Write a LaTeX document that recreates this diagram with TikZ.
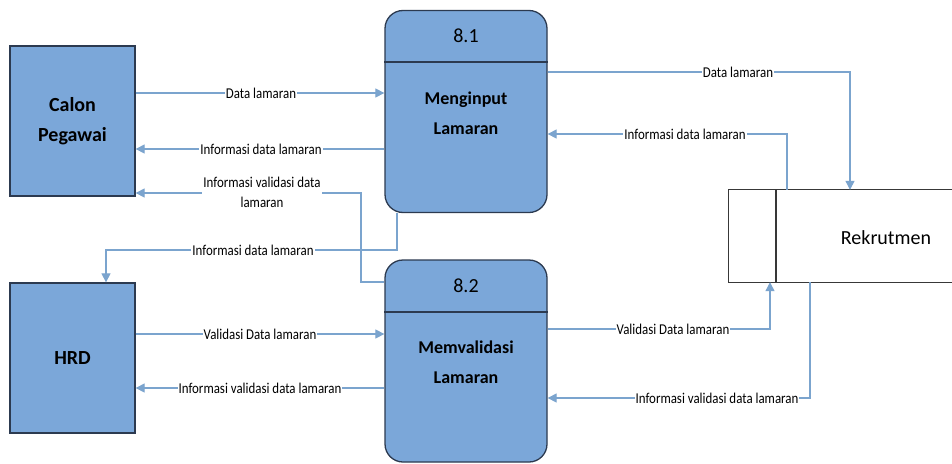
\documentclass[tikz,border=0pt]{standalone}
\usepackage{fontspec}
\setmainfont{Carlito}
\newfontfamily\lblfont[FakeStretch=0.86]{Carlito}
\usetikzlibrary{arrows.meta}
\definecolor{boxblue}{HTML}{7BA7D9}
\definecolor{boxedge}{HTML}{2C3A50}
\definecolor{flowblue}{HTML}{7BA4CE}
\definecolor{storeedge}{HTML}{383838}
\begin{document}
\begin{tikzpicture}[x=1pt,y=-1pt,
  ext/.style={draw=boxedge, line width=1.3pt, fill=boxblue, minimum width=125pt, minimum height=150pt, inner sep=0pt, align=center, font=\fontsize{20}{30}\selectfont\bfseries},
  proc/.style={draw=boxedge, line width=1.3pt, fill=boxblue, rounded corners=18pt, minimum width=162pt, minimum height=202pt, inner sep=0pt},
  ptitle/.style={font=\fontsize{20}{24}\selectfont, inner sep=0pt},
  ptext/.style={font=\fontsize{18}{30}\selectfont\bfseries, align=center, inner sep=0pt},
  divline/.style={draw=boxedge, line width=1.3pt},
  flow/.style={draw=flowblue, line width=1.2pt, -{Triangle[length=9pt,width=9pt]}},
  lbl/.style={fill=white, inner sep=1pt, align=center, font=\lblfont\fontsize{15}{20}\selectfont, text=black},
  store/.style={draw=storeedge, line width=1.3pt}
]
\useasboundingbox (0,0) rectangle (952,463);
\fill[white] (0,0) rectangle (952,463);

% external entities
\node[ext] (cp) at (72.5,121) {Calon\\Pegawai};
\node[ext] (hrd) at (72.5,358) {HRD};

% processes
\node[proc] (p1) at (466,111.5) {};
\node[proc] (p2) at (466,361) {};
\coordinate (d1) at (0,62);
\coordinate (d2) at (0,312);
\draw[divline] (p1.west |- d1) -- (p1.east |- d1);
\draw[divline] (p2.west |- d2) -- (p2.east |- d2);
\node[ptitle] (n1) at (466,36) {8.1};
\node[ptext] (m1) at (466,113) {Menginput\\Lamaran};
\node[ptitle] (n2) at (466,286) {8.2};
\node[ptext] (m2) at (466,362) {Memvalidasi\\Lamaran};

% data store
\node[minimum width=223pt, minimum height=92pt, inner sep=0pt] (rk) at (840.5,236) {};
\coordinate (dv) at (776,0);
\draw[store] (rk.north east) -- (rk.north west) -- (rk.south west) -- (rk.south east);
\draw[store] (rk.north -| dv) -- (rk.south -| dv);
\node[font=\fontsize{20}{24}\selectfont, inner sep=0pt] (rkt) at (886,238) {Rekrutmen};

% level coordinates
\coordinate (ya) at (0,93);
\coordinate (yb) at (0,149);
\coordinate (yc) at (0,282);
\coordinate (c3) at (361,193);
\coordinate (c4) at (397,0);
\coordinate (c5) at (106,250);
\coordinate (ye) at (0,334);
\coordinate (yf) at (0,388);
\coordinate (yg) at (0,72);
\coordinate (c7) at (850,0);
\coordinate (c8) at (787,0);
\coordinate (yh) at (0,134);
\coordinate (yi) at (0,329);
\coordinate (c9) at (770,0);
\coordinate (c10) at (810,0);
\coordinate (yj) at (0,398);

% flows
\draw[flow] (cp.east |- ya) -- (p1.west |- ya);
\draw[flow] (p1.west |- yb) -- (cp.east |- yb);
\draw[flow] (p2.west |- yc) -| (c3) -- (cp.east |- c3);
\draw[flow] (p1.south -| c4) |- (c5) -- (hrd.north -| c5);
\draw[flow] (hrd.east |- ye) -- (p2.west |- ye);
\draw[flow] (p2.west |- yf) -- (hrd.east |- yf);
\draw[flow] (p1.east |- yg) -| (rk.north -| c7);
\draw[flow] (rk.north -| c8) |- (p1.east |- yh);
\draw[flow] (p2.east |- yi) -| (rk.south -| c9);
\draw[flow] (rk.south -| c10) |- (p2.east |- yj);

% labels
\node[lbl] (l1) at (261,93) {Data lamaran};
\node[lbl] (l2) at (261,149) {Informasi data lamaran};
\node[lbl] (l3) at (262,192.5) {Informasi validasi data\\lamaran};
\node[lbl] (l4) at (253,250) {Informasi data lamaran};
\node[lbl] (l5) at (260,334) {Validasi Data lamaran};
\node[lbl] (l6) at (260,388) {Informasi validasi data lamaran};
\node[lbl] (l7) at (738,72) {Data lamaran};
\node[lbl] (l8) at (685,134) {Informasi data lamaran};
\node[lbl] (l9) at (673,329) {Validasi Data lamaran};
\node[lbl] (l10) at (717,398) {Informasi validasi data lamaran};
\end{tikzpicture}
\end{document}
